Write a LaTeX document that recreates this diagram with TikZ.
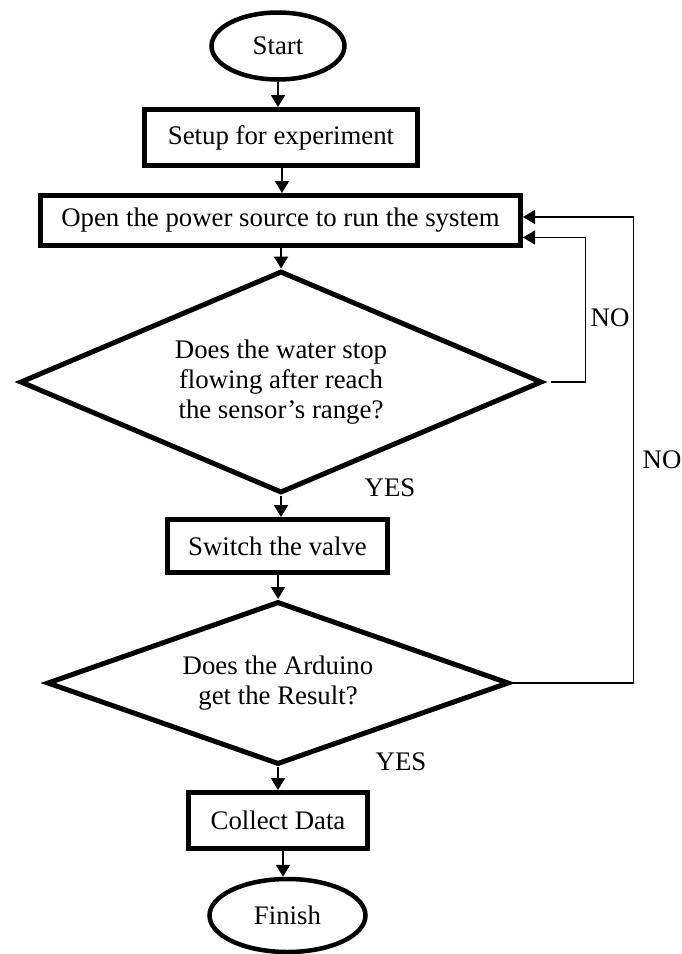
\documentclass[tikz,border=0pt]{standalone}
\usepackage{fontspec}
\setmainfont{Liberation Serif}
\usetikzlibrary{shapes.geometric,arrows.meta}
\begin{document}
\begin{tikzpicture}[x=1pt,y=-1pt,
  every node/.style={font=\fontsize{26.8pt}{30pt}\selectfont, inner sep=0pt},
  procbox/.style={draw, line width=5pt, rectangle, align=center},
  termbox/.style={draw, line width=4.5pt, ellipse},
  decbox/.style={draw, line width=5pt, diamond, align=center},
  flow/.style={line width=2pt, -{Triangle[length=12pt,width=14pt]}},
  loopline/.style={line width=1.5pt, -{Triangle[length=12pt,width=14pt]}}
]
\useasboundingbox (0,0) rectangle (681,954);

\node[termbox, minimum width=133pt, minimum height=67pt] (start) at (278,46) {Start};
\node[procbox, minimum width=273pt, minimum height=56pt] (setup) at (281,137.5) {Setup for experiment};
\node[procbox, minimum width=480pt, minimum height=50pt] (power) at (280.5,220.5) {Open the power source to run the system};
\node[decbox, minimum width=522pt, minimum height=222pt, aspect=2.3] (dec1) at (281,382) {Does the water stop\\flowing after reach\\the sensor’s range?};
\node[procbox, minimum width=220pt, minimum height=53pt] (valve) at (277.5,546) {Switch the valve};
\node[decbox, minimum width=462pt, minimum height=163pt, aspect=2.75] (dec2) at (278,683) {Does the Arduino\\get the Result?};
\node[procbox, minimum width=179pt, minimum height=56pt] (collect) at (278,820.5) {Collect Data};
\node[termbox, minimum width=156pt, minimum height=73pt] (finish) at (287.5,915.5) {Finish};

\node (no1) at (610,318) {NO};
\node (no2) at (662,460) {NO};
\node (yes1) at (390,488) {YES};
\node (yes2) at (401,762) {YES};

\draw[flow] (start.south) -- (start.south |- setup.north);
\draw[flow] ([xshift=1pt]setup.south) -- ([xshift=1pt]setup.south |- power.north);
\draw[flow] (dec1.north |- power.south) -- (dec1.north);
\draw[flow] (dec1.south) -- (dec1.south |- valve.north);
\draw[flow] (dec2.north |- valve.south) -- (dec2.north);
\draw[flow] (dec2.south) -- (dec2.south |- collect.north);
\draw[flow] ([xshift=5pt]collect.south) -- ([xshift=5pt]collect.south |- finish.north);

\draw[loopline] ([xshift=6pt]dec1.east) -- ++(35,0) |- ([yshift=-17pt]power.east);
\draw[loopline] (dec2.east) -- ++(122,0) |- ([yshift=3.5pt]power.east);
\end{tikzpicture}
\end{document}
